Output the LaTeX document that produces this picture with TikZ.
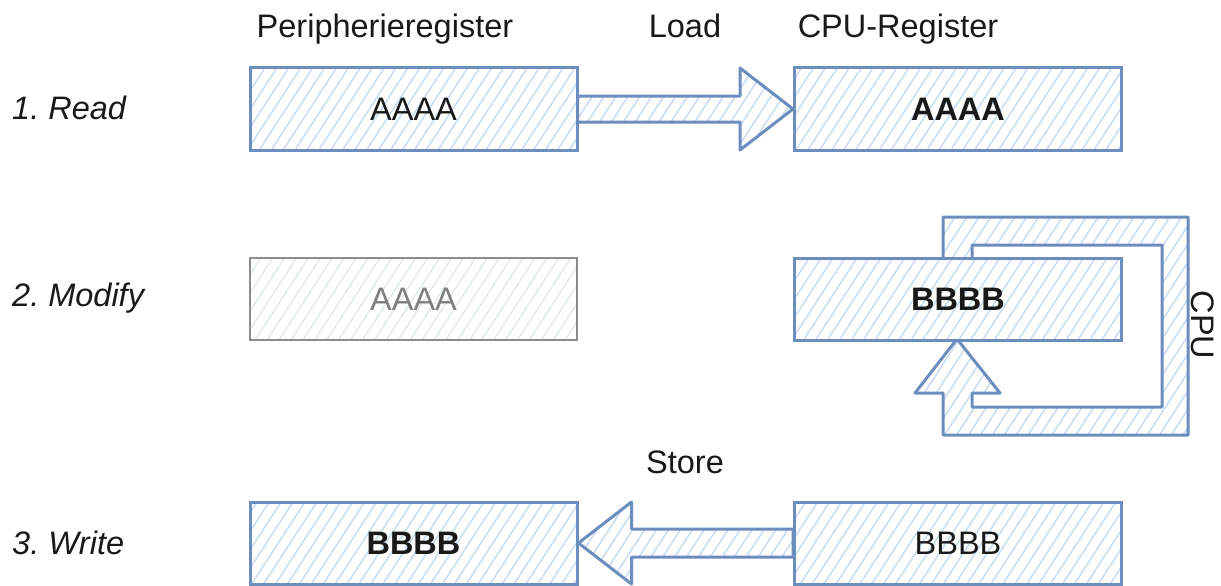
\documentclass[tikz,border=0pt]{standalone}
\usepackage{fontspec}
\setmainfont{Liberation Sans}
\usetikzlibrary{patterns.meta,calc}
\definecolor{regblue}{HTML}{6C8EBF}
\definecolor{hatchblue}{HTML}{C6DAF2}
\definecolor{greyline}{HTML}{8C8C8C}
\definecolor{greyhatch}{HTML}{E0EAEA}
\definecolor{greytext}{HTML}{7F7F7F}
\tikzset{
  hatched/.style={preaction={fill=white},
    pattern={Lines[angle=57,distance=10pt,line width=1.4pt]},pattern color=hatchblue},
  reg/.style={draw=regblue,line width=3pt,hatched,minimum width=327pt,minimum height=82pt,
    inner sep=0pt,font=\fontsize{32.5}{38}\selectfont,text=black!90},
  oldreg/.style={reg,draw=greyline,line width=2.4pt,
    pattern={Lines[angle=57,distance=10pt,line width=1.4pt]},pattern color=greyhatch,text=greytext},
  bigarrow/.style={draw=regblue,line width=3pt,line join=round,hatched},
  lbl/.style={font=\fontsize{32.5}{38}\selectfont,text=black!90,inner sep=0pt},
  heading/.style={lbl,anchor=base},
  steplabel/.style={lbl,font=\fontsize{32.5}{38}\selectfont\itshape,anchor=west},
}
\frenchspacing
\begin{document}
\begin{tikzpicture}[x=1pt,y=-1pt]
\useasboundingbox (0,0) rectangle (1221,586);

% column headings
\node[heading] (hperi) at (385,37.5) {Peripherieregister};
\node[heading] (hload) at (685,37.5) {Load};
\node[heading] (hcpu)  at (898,37.5) {CPU-Register};
\node[heading] (hstore) at (685,473.5) {Store};

% step labels
\node[steplabel] (s1) at (12,108) {1. Read};
\node[steplabel] (s2) at (12,298) {2. Modify};
\node[steplabel] (s3) at (12,543) {3. Write};

% row 1: read
\node[reg] (p1) at (413.5,109) {AAAA};
\node[reg] (c1) at (958,109) {\bfseries AAAA};
\draw[bigarrow] ($(p1.east)+(0,-13)$) -- ($(c1.west)+(-53,-13)$) -- ($(c1.west)+(-53,-41)$)
  -- (c1.west) -- ($(c1.west)+(-53,41)$) -- ($(c1.west)+(-53,13)$) -- ($(p1.east)+(0,13)$) -- cycle;

% row 2: modify inside the CPU
\node[oldreg] (p2) at (413.5,299) {AAAA};
\coordinate (cputip) at (957,339);
\draw[bigarrow] (943,259) -- (943,217) -- (1188,217) -- (1188,435) -- (943,435) -- (943,393)
  -- (915,393) -- (cputip) -- (1000,393) -- (972,393) -- (972,407) -- (1162,407)
  -- (1162,245) -- (972,245) -- (972,259);
\node[reg] (c2) at (958,299) {\bfseries BBBB};
\node[lbl,rotate=-90] (cpu) at (1203,325) {CPU};

% row 3: write back
\node[reg] (p3) at (413.5,543) {\bfseries BBBB};
\node[reg] (c3) at (958,543) {BBBB};
\draw[bigarrow] ($(c3.west)+(0,-14)$) -- ($(p3.east)+(53,-14)$) -- ($(p3.east)+(53,-41)$)
  -- (p3.east) -- ($(p3.east)+(53,41)$) -- ($(p3.east)+(53,14)$) -- ($(c3.west)+(0,14)$) -- cycle;
\end{tikzpicture}
\end{document}
